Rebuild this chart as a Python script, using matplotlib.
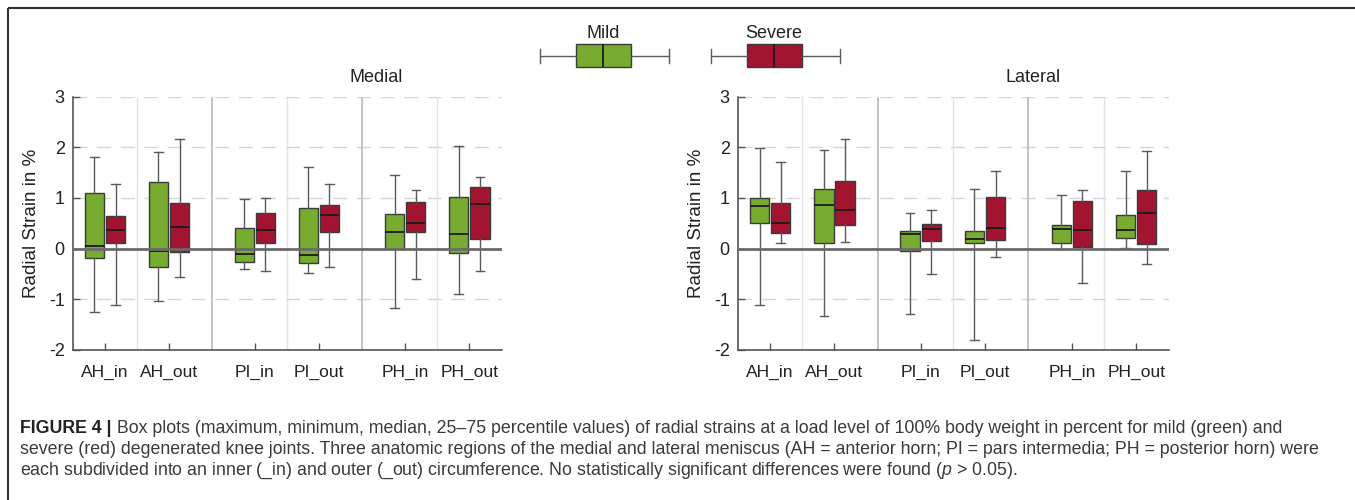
import matplotlib
matplotlib.use("Agg")
import matplotlib.pyplot as plt

plt.rcParams["font.family"] = ["Liberation Sans", "DejaVu Sans"]
plt.rcParams["mathtext.fontset"] = "custom"
plt.rcParams["mathtext.it"] = "Liberation Sans:italic"
plt.rcParams["mathtext.rm"] = "Liberation Sans"

CATEGORIES = ["AH_in", "AH_out", "PI_in", "PI_out", "PH_in", "PH_out"]
GROUPS = ["Mild", "Severe"]
PANELS = ["Medial", "Lateral"]
YTICKS = [-2, -1, 0, 1, 2, 3]

# (min, q1, median, q3, max) per category
MEDIAL_MILD = [
    (-1.26, -0.18, 0.05, 1.09, 1.80),
    (-1.04, -0.36, -0.05, 1.32, 1.90),
    (-0.41, -0.26, -0.11, 0.41, 0.98),
    (-0.49, -0.28, -0.12, 0.81, 1.61),
    (-1.18, -0.01, 0.32, 0.68, 1.45),
    (-0.90, -0.09, 0.28, 1.01, 2.03),
]
MEDIAL_SEVERE = [
    (-1.11, 0.11, 0.36, 0.64, 1.27),
    (-0.56, -0.07, 0.43, 0.90, 2.16),
    (-0.45, 0.11, 0.36, 0.71, 0.99),
    (-0.36, 0.32, 0.66, 0.86, 1.27),
    (-0.59, 0.32, 0.50, 0.91, 1.16),
    (-0.44, 0.18, 0.88, 1.22, 1.41),
]
LATERAL_MILD = [
    (-1.11, 0.51, 0.85, 0.99, 1.99),
    (-1.33, 0.12, 0.86, 1.17, 1.95),
    (-1.29, -0.05, 0.29, 0.34, 0.71),
    (-1.80, 0.12, 0.19, 0.34, 1.18),
    (-0.01, 0.12, 0.39, 0.47, 1.06),
    (0.01, 0.20, 0.37, 0.67, 1.54),
]
LATERAL_SEVERE = [
    (0.11, 0.31, 0.50, 0.89, 1.71),
    (0.13, 0.47, 0.76, 1.34, 2.17),
    (-0.51, 0.15, 0.39, 0.49, 0.76),
    (-0.16, 0.16, 0.41, 1.01, 1.54),
    (-0.68, 0.03, 0.37, 0.93, 1.16),
    (-0.31, 0.09, 0.70, 1.16, 1.92),
]

CAPTION_BOLD = "FIGURE 4 |"
CAPTION = [
    " Box plots (maximum, minimum, median, 25\u201375 percentile values) of radial strains at a load level of 100% body weight in percent for mild (green) and",
    "severe (red) degenerated knee joints. Three anatomic regions of the medial and lateral meniscus (AH = anterior horn; PI = pars intermedia; PH = posterior horn) were",
    "each subdivided into an inner (_in) and outer (_out) circumference. No statistically significant differences were found ($\\it{p}$ > 0.05).",
]

COLORS = {"Mild": "#77AC30", "Severe": "#A2142F"}
# category centres: pairs with a wider gap between anatomic regions
XPOS = [0, 1, 2.34, 3.34, 4.69, 5.69]
OFFSET = 0.165
BOXW = 0.30
EDGE = "#3a3a3a"
WHISK = "#5a5a5a"

W, H = 1355, 500
fig = plt.figure(figsize=(W / 100, H / 100), dpi=100)


def stats(rows):
    return [dict(whislo=r[0], q1=r[1], med=r[2], q3=r[3], whishi=r[4]) for r in rows]


def draw_boxes(ax, rows, positions, color):
    ax.bxp(stats(rows), positions=positions, widths=BOXW, capwidths=BOXW * 0.45,
           patch_artist=True, showfliers=False, manage_ticks=False,
           boxprops=dict(facecolor=color, edgecolor=EDGE, lw=1.0),
           medianprops=dict(color="#1a1a1a", lw=1.3),
           whiskerprops=dict(color=WHISK, lw=1.0),
           capprops=dict(color=WHISK, lw=1.0), zorder=3)


def panel(rect, title, title_x, mild, severe):
    ax = fig.add_axes(rect)
    ax.set_xlim(-0.5, 6.2)
    ax.set_ylim(-2, 3)
    # grid: dashed horizontals, separators between categories
    for y in YTICKS[1:]:
        if y != 0:
            ax.axhline(y, color="#d6d6d6", lw=1, ls=(0, (10, 7)), zorder=1)
    for i in range(len(XPOS) - 1):
        sep = (XPOS[i] + XPOS[i + 1]) / 2
        dark = i % 2 == 1
        ax.axvline(sep, color="#bdbdbd" if dark else "#e3e3e3",
                   lw=1.3 if dark else 1.0, zorder=1)
    draw_boxes(ax, mild, [p - OFFSET for p in XPOS], COLORS["Mild"])
    draw_boxes(ax, severe, [p + OFFSET for p in XPOS], COLORS["Severe"])
    ax.axhline(0, color="#6a6a6a", lw=2, zorder=4)

    ax.set_xticks(XPOS)
    ax.set_xticklabels(CATEGORIES, fontsize=12.5, color="#222222")
    ax.set_yticks(YTICKS)
    ax.set_yticklabels([str(v) for v in YTICKS], fontsize=13, color="#222222")
    ax.tick_params(direction="in", length=5, color="#555555", width=1)
    ax.tick_params(axis="x", pad=11)
    ax.tick_params(axis="y", pad=6)
    for s in ("top", "right"):
        ax.spines[s].set_visible(False)
    for s in ("left", "bottom"):
        ax.spines[s].set_color("#555555")
        ax.spines[s].set_linewidth(1.2)
    ax.set_ylabel("Radial Strain in %", fontsize=13.5, color="#222222", labelpad=6)
    fig.text(title_x / W, 1 - 78 / H, title, fontsize=13, color="#222222",
             ha="center", va="center")
    return ax


panel([73 / W, 150 / H, 429 / W, 253.5 / H], PANELS[0], 376, MEDIAL_MILD, MEDIAL_SEVERE)
panel([738 / W, 150 / H, 431 / W, 253.5 / H], PANELS[1], 1033, LATERAL_MILD, LATERAL_SEVERE)

# legend glyphs: small horizontal box plots with labels above
leg = fig.add_axes([0, 0, 1, 1], zorder=5)
leg.set_xlim(0, W)
leg.set_ylim(H, 0)
leg.axis("off")
glyph = (-0.65, 0.0, 0.5, 1.0, 1.7)  # whisker, box, median in box-widths
for name, cx in zip(GROUPS, [603, 774]):
    st = [dict(whislo=cx + (glyph[0] - 0.5) * 55, q1=cx + (glyph[1] - 0.5) * 55,
               med=cx + (glyph[2] - 0.5) * 55, q3=cx + (glyph[3] - 0.5) * 55,
               whishi=cx + (glyph[4] - 0.5) * 55)]
    leg.bxp(st, positions=[55.7], widths=23, capwidths=14, orientation="horizontal",
            patch_artist=True, showfliers=False, manage_ticks=False,
            boxprops=dict(facecolor=COLORS[name], edgecolor=EDGE, lw=1.0),
            medianprops=dict(color="#1a1a1a", lw=1.3),
            whiskerprops=dict(color=WHISK, lw=1.0),
            capprops=dict(color=WHISK, lw=1.0))
    leg.text(cx, 34, name, fontsize=13, color="#222222", ha="center", va="center")

# frame lines of the figure box
leg.plot([8, 8], [8, H], color="#333333", lw=1.5, solid_capstyle="butt")
leg.plot([8, W], [8, 8], color="#333333", lw=1.5, solid_capstyle="butt")

# caption
cap_col = "#3a3a3a"
cap_fs = 12.8
base = [433, 454, 475]
t0 = leg.text(20, base[0], CAPTION_BOLD, fontsize=cap_fs, fontweight="bold",
              color="#222222", va="baseline")
fig.canvas.draw()
bb = t0.get_window_extent()
x1 = bb.x1  # display px == data px for this overlay
leg.text(x1, base[0], CAPTION[0], fontsize=cap_fs, color=cap_col, va="baseline")
for line, y in zip(CAPTION[1:], base[1:]):
    leg.text(20, y, line, fontsize=cap_fs, color=cap_col, va="baseline")

fig.savefig("out.png", dpi=100)
